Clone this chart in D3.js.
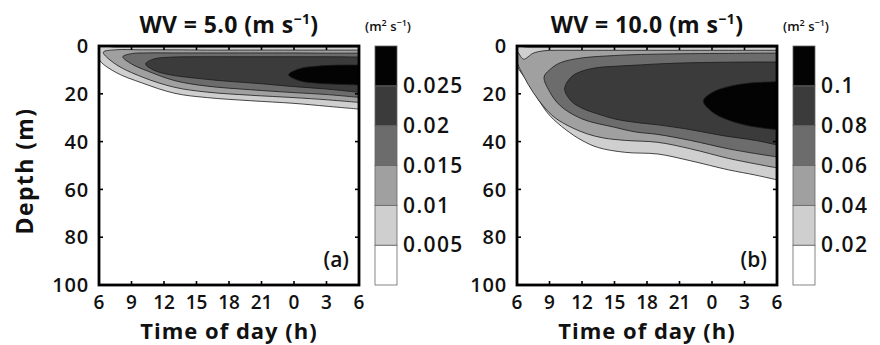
<!DOCTYPE html>
<html>
<head>
<meta charset="utf-8">
<script src="https://cdn.jsdelivr.net/npm/d3@7/dist/d3.min.js"></script>
<style>
  html, body { margin: 0; padding: 0; background: #fff; }
  svg text { font-family: "Open Sans", "DejaVu Sans", sans-serif; fill: #111; }
</style>
</head>
<body>
<svg id="chart" width="880" height="345"></svg>
<script>
// ---- axes ----
const timeDomain = [6, 30];               // hours since midnight of day 1
const timeTicks = [6, 9, 12, 15, 18, 21, 24, 27, 30];
const timeTickLabels = ["6", "9", "12", "15", "18", "21", "0", "3", "6"];
const depthTicks = [0, 20, 40, 60, 80, 100];

// ---- colour classes (value bands) ----
const bandColors = ["#ffffff", "#cfcfcf", "#a0a0a0", "#6c6c6c", "#3b3b3b", "#030303"];
const levelsA = [0.005, 0.01, 0.015, 0.02, 0.025];
const levelsB = [0.02, 0.04, 0.06, 0.08, 0.1];
const levelLabelsA = ["0.005", "0.01", "0.015", "0.02", "0.025"];
const levelLabelsB = ["0.02", "0.04", "0.06", "0.08", "0.1"];

// ---- isolines, WV = 5.0 : [time (h), upper depth (m), lower depth (m)] ----
const isoA1 = [[6, 0.4, 5.5], [7.5, 0.4, 10.9], [10, 0.4, 15.5], [13, 0.4, 19.8], [16, 0.4, 21.6],
               [20, 0.4, 22.9], [24, 0.4, 24], [27, 0.4, 25.2], [30, 0.4, 26.4]];
const isoA2 = [[6.4, 2.6, 2.6], [7.5, 1.6, 7.5], [10, 1.6, 13], [13, 1.6, 17.3], [16, 1.7, 19.3],
               [20, 1.7, 20.6], [24, 1.7, 21.6], [27, 1.7, 22.5], [30, 1.7, 23.6]];
const isoA3 = [[8.2, 4.5, 4.5], [9, 3.2, 7.5], [10.5, 2.9, 10.5], [13, 2.9, 14.5], [16, 2.9, 16.8],
               [20, 2.9, 18.3], [24, 2.9, 19.5], [27, 3.0, 20.3], [30, 3.0, 21.5]];
const isoA4 = [[10.3, 7.5, 7.5], [11, 5.5, 10], [12.5, 4.7, 12], [15, 4.5, 13.5], [18, 4.5, 14.8],
               [21, 4.5, 15.8], [24, 4.5, 17], [27, 4.5, 18], [30, 4.6, 19.4]];
const isoA5 = [[23.5, 12, 12], [24.5, 9.5, 14.5], [26, 8.5, 15.5], [28, 8, 16], [30, 8, 16.3]];

// ---- isolines, WV = 10.0 ----
const isoB1 = [[6, 0.5, 8], [7, 0.5, 15], [8, 0.5, 22.6], [9, 0.5, 29], [10.5, 0.5, 35], [12, 0.5, 39.5],
               [13.5, 0.5, 42.5], [16, 0.5, 44.5], [19, 0.5, 45.2], [22, 0.5, 48], [25.5, 0.5, 51.8],
               [28, 0.5, 54], [30, 0.5, 56]];
const isoB2 = [[6, 2.2, 6.5], [6.6, 5.5, 12.5], [7.5, 3, 19.5], [8.5, 2, 25.5], [9.5, 1.8, 30],
               [11, 1.8, 34], [12.5, 1.8, 36.8], [14, 1.8, 38.5], [16, 1.8, 39.5], [19, 1.8, 40.3],
               [22, 1.8, 43], [25.5, 1.8, 47], [28, 1.8, 49.3], [30, 1.8, 51]];
const isoB3 = [[8.5, 13, 13], [9, 10, 19], [10, 7, 25], [12, 5, 30.5], [15, 4, 34], [17, 3.6, 36],
               [19, 3.4, 37], [22, 3.2, 39.5], [25.5, 3.1, 43], [28, 3.0, 45], [30, 3.0, 46.4]];
const isoB4 = [[10.4, 18, 18], [11, 13, 23], [12, 10.5, 26], [13.5, 9, 28.5], [15, 8.5, 30.5],
               [17, 8, 32], [19, 7.5, 33], [22, 7, 35], [25, 6.8, 37.5], [28, 6.7, 39.5], [30, 6.7, 41.4]];
const isoB5 = [[23.2, 23, 23], [24, 19.5, 27.5], [25.5, 17, 31], [27.5, 15.5, 33.5], [30, 15, 35]];

const panels = [
  { id: "a", title: "5.0", tag: "(a)", x0: 99, cbX: 375, levels: levelsA, labels: levelLabelsA,
    isos: [isoA1, isoA2, isoA3, isoA4, isoA5] },
  { id: "b", title: "10.0", tag: "(b)", x0: 517, cbX: 793, levels: levelsB, labels: levelLabelsB,
    isos: [isoB1, isoB2, isoB3, isoB4, isoB5] }
];

const svg = d3.select("#chart");
const plotW = 260, plotTop = 46, plotBottom = 285, cbW = 22;

// Depth axis label shared by both panels
svg.append("text")
  .attr("transform", "translate(33,171) rotate(-90)")
  .attr("text-anchor", "middle")
  .attr("font-size", 23).attr("font-weight", 700).attr("letter-spacing", 1.4)
  .text("Depth (m)");

panels.forEach(p => {
  const x = d3.scaleLinear().domain(timeDomain).range([p.x0, p.x0 + plotW]);
  const y = d3.scaleLinear().domain([0, 100]).range([plotTop, plotBottom]);
  const g = svg.append("g");

  const clipId = "clip-" + p.id;
  svg.append("clipPath").attr("id", clipId)
    .append("rect").attr("x", p.x0).attr("y", plotTop).attr("width", plotW).attr("height", plotBottom - plotTop);

  // filled regions: each region holds values above its level
  const line = d3.line()
    .x(d => x(d[0])).y(d => y(d[1]))
    .curve(d3.curveCatmullRom.alpha(0.5));

  const fills = g.append("g").attr("clip-path", `url(#${clipId})`);
  p.isos.forEach((iso, i) => {
    const upper = iso.map(r => [r[0], r[1]]).reverse();
    const tip = iso[0][1] === iso[0][2];
    const lower = iso.slice(tip ? 1 : 0).map(r => [r[0], r[2]]);
    fills.append("path")
      .attr("d", line(upper.concat(lower)) + "Z")
      .attr("fill", bandColors[i + 1])
      .attr("stroke", "#1a1a1a")
      .attr("stroke-width", 0.8)
      .attr("stroke-linejoin", "round");
  });

  // ticks pointing inward on all four sides
  const tickLen = 4;
  const ticks = g.append("g").attr("stroke", "#000").attr("stroke-width", 1.6);
  timeTicks.forEach(t => {
    ticks.append("line").attr("x1", x(t)).attr("x2", x(t)).attr("y1", plotBottom).attr("y2", plotBottom - tickLen);
    ticks.append("line").attr("x1", x(t)).attr("x2", x(t)).attr("y1", plotTop).attr("y2", plotTop + tickLen);
  });
  depthTicks.forEach(d => {
    ticks.append("line").attr("x1", p.x0).attr("x2", p.x0 + tickLen).attr("y1", y(d)).attr("y2", y(d));
    ticks.append("line").attr("x1", p.x0 + plotW).attr("x2", p.x0 + plotW - tickLen).attr("y1", y(d)).attr("y2", y(d));
  });

  // frame
  g.append("rect")
    .attr("x", p.x0).attr("y", plotTop).attr("width", plotW).attr("height", plotBottom - plotTop)
    .attr("fill", "none").attr("stroke", "#000").attr("stroke-width", 2.8);

  // tick labels
  g.append("g").selectAll("text").data(timeTicks).join("text")
    .attr("x", d => x(d)).attr("y", 309)
    .attr("text-anchor", "middle").attr("font-size", 19).attr("font-weight", 600)
    .text((d, i) => timeTickLabels[i]);
  g.append("g").selectAll("text").data(depthTicks).join("text")
    .attr("x", p.x0 - 10).attr("y", d => y(d)).attr("dy", "0.36em")
    .attr("text-anchor", "end").attr("font-size", 20).attr("font-weight", 600)
    .attr("letter-spacing", 0.8)
    .text(d => d);

  // axis title
  g.append("text")
    .attr("x", x(18)).attr("y", 339)
    .attr("text-anchor", "middle").attr("font-size", 22).attr("font-weight", 700)
    .attr("letter-spacing", 1)
    .text("Time of day (h)");

  // panel title
  const tt = g.append("text")
    .attr("x", x(18)).attr("y", 33)
    .attr("text-anchor", "middle").attr("font-size", 23).attr("font-weight", 700)
    .attr("letter-spacing", 0.4);
  tt.append("tspan").text(`WV = ${p.title} (m s`);
  tt.append("tspan").attr("font-size", 14).attr("dy", -9).text("\u22121");
  tt.append("tspan").attr("dy", 9).text(")");

  // panel tag
  g.append("text")
    .attr("x", p.x0 + plotW - 10).attr("y", 267)
    .attr("text-anchor", "end").attr("font-size", 21).attr("font-weight", 600)
    .text(p.tag);

  // colour bar
  const lastLevel = p.levels[p.levels.length - 1];
  const step = p.levels[1] - p.levels[0];
  const edges = [0].concat(p.levels, [lastLevel + step]);
  const cy = d3.scaleLinear().domain([0, lastLevel + step]).range([plotBottom, plotTop]);
  const cb = svg.append("g");
  cb.selectAll("rect").data(d3.range(edges.length - 1)).join("rect")
    .attr("x", p.cbX).attr("width", cbW)
    .attr("y", i => cy(edges[i + 1])).attr("height", i => cy(edges[i]) - cy(edges[i + 1]))
    .attr("fill", i => bandColors[i])
    .attr("stroke", "#666").attr("stroke-width", 0.8);
  const cbAxis = d3.axisRight(cy).tickValues(p.levels).tickSize(0).tickPadding(6)
    .tickFormat((d, i) => p.labels[i]);
  const ax = cb.append("g").attr("transform", `translate(${p.cbX + cbW},0)`).call(cbAxis);
  ax.select(".domain").remove();
  ax.selectAll("text").attr("font-size", 21).attr("font-weight", 600).attr("letter-spacing", 1.4)
    .attr("font-family", "'Open Sans', sans-serif").attr("fill", "#111");

  // colour bar units
  const ut = cb.append("text")
    .attr("x", p.cbX + cbW / 2 + 2).attr("y", 31)
    .attr("text-anchor", "middle").attr("font-size", 13).attr("font-weight", 600);
  ut.append("tspan").text("(m");
  ut.append("tspan").attr("font-size", 9).attr("dy", -5).text("2");
  ut.append("tspan").attr("dy", 5).text(" s");
  ut.append("tspan").attr("font-size", 9).attr("dy", -5).text("\u22121");
  ut.append("tspan").attr("dy", 5).text(")");
});
</script>
</body>
</html>
